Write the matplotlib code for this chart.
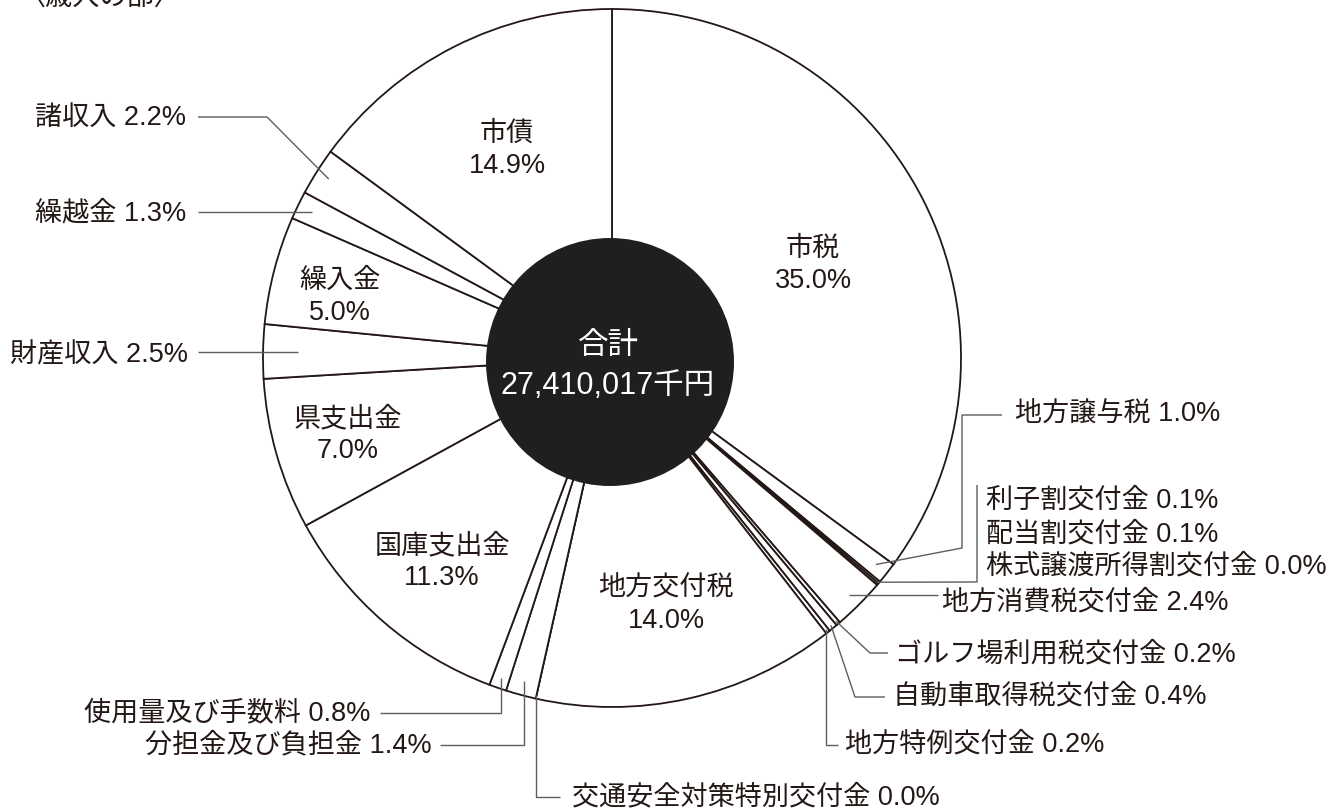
import numpy as np
import matplotlib.pyplot as plt
from matplotlib.patches import Circle

# Latin digits in a Helvetica-like face, kanji/kana from Noto CJK
plt.rcParams['font.family'] = ['Liberation Sans', 'Noto Sans CJK JP', 'DejaVu Sans']

# Revenue breakdown (percent of total), clockwise from 12 o'clock
categories = ['市税', '地方譲与税', '利子割交付金', '配当割交付金', '株式譲渡所得割交付金',
              '地方消費税交付金', 'ゴルフ場利用税交付金', '自動車取得税交付金', '地方特例交付金',
              '地方交付税', '交通安全対策特別交付金', '分担金及び負担金', '使用量及び手数料',
              '国庫支出金', '県支出金', '財産収入', '繰入金', '繰越金', '諸収入', '市債']
shares = [35.0, 1.0, 0.1, 0.1, 0.0, 2.4, 0.2, 0.4, 0.2, 14.0,
          0.0, 1.4, 0.8, 11.3, 7.0, 2.5, 5.0, 1.3, 2.2, 14.9]
total_title = '合計'
total_value = '27,410,017千円'
page_title = '〈歳入の部〉'

W, H = 1329, 810
TXT = '#231815'
LEAD = '#5e5e5e'
FS = 19.5


def Y(py):
    # pixel row (from top) -> data y
    return H - py


fig = plt.figure(figsize=(W / 100, H / 100), dpi=100)
ax = fig.add_axes([0, 0, 1, 1])

cx, cy, R = 612, Y(358), 349
wedges, _ = ax.pie(shares, startangle=90, counterclock=False, center=(cx, cy), radius=R,
                   wedgeprops=dict(facecolor='white', edgecolor=TXT, linewidth=1.3))
ax.set_xlim(0, W)
ax.set_ylim(0, H)
ax.set_aspect('equal')
ax.axis('off')

# black disc in the middle
ax.add_patch(Circle((610, Y(362)), 124, facecolor='#1f1f1f', edgecolor='none', zorder=3))
ax.text(608, Y(346), total_title, color='white', fontsize=22, ha='center', va='center', zorder=4)
ax.text(608, Y(386), total_value, color='white', fontsize=22, ha='center', va='center', zorder=4)

ax.text(18, Y(-1), page_title, color=TXT, fontsize=FS, ha='left', va='center')


def pct(v):
    return f'{v:.1f}%'


# labels inside the big slices
inner = {0: (813, 265), 19: (507, 150), 16: (340, 297), 14: (348, 435),
         13: (442, 562), 9: (666, 605)}
for i, (px, py) in inner.items():
    ax.text(px, Y(py), categories[i] + '\n' + pct(shares[i]), color=TXT, fontsize=FS,
            ha='center', va='center', linespacing=1.3)


def anchor(idx, rf):
    t1 = min(wedges[i].theta1 for i in idx)
    t2 = max(wedges[i].theta2 for i in idx)
    a = np.deg2rad((t1 + t2) / 2)
    return cx + rf * R * np.cos(a), cy + rf * R * np.sin(a)


# leader lines: slices, radius fraction, path steps, text position, alignment
leaders = [
    ([1], 0.96, [('p', 962, 548), ('v', 415), ('h', 1002)], (1015, 415), 'left'),
    ([2, 3, 4], 0.995, [('p', 977, 582), ('v', 485)], None, None),
    ([5], 0.96, [('h', 938)], (942, 603), 'left'),
    ([6], 0.99, [('p', 870, 653), ('h', 888)], (895, 655), 'left'),
    ([7], 0.99, [('p', 855, 697), ('h', 885)], (893, 697), 'left'),
    ([8], 0.99, [('v', 745), ('h', 838)], (845, 745), 'left'),
    ([10], 0.99, [('v', 797), ('h', 560)], (572, 797), 'left'),
    ([11], 0.96, [('v', 745), ('h', 440)], (432, 745), 'right'),
    ([12], 0.97, [('v', 713), ('h', 380)], (370, 713), 'right'),
    ([15], 0.90, [('h', 198)], (188, 355), 'right'),
    ([17], 0.955, [('h', 198)], (186, 213), 'right'),
    ([18], 0.96, [('p', 267, 117), ('h', 198)], (186, 118), 'right'),
]
for idx, rf, steps, tpos, ha in leaders:
    x, y = anchor(idx, rf)
    xs, ys = [x], [y]
    for s in steps:
        if s[0] == 'p':
            x, y = s[1], Y(s[2])
        elif s[0] == 'v':
            y = Y(s[1])
        else:
            x = s[1]
        xs.append(x)
        ys.append(y)
    ax.plot(xs, ys, color=LEAD, lw=1.0, solid_capstyle='butt')
    if tpos is not None:
        i = idx[0]
        ax.text(tpos[0], Y(tpos[1]), f'{categories[i]} {pct(shares[i])}', color=TXT,
                fontsize=FS, ha=ha, va='center')

# stacked labels for the three tiny slices
for i, py in zip([2, 3, 4], [500, 534, 566]):
    ax.text(986, Y(py), f'{categories[i]} {pct(shares[i])}', color=TXT, fontsize=FS,
            ha='left', va='center')

fig.savefig('out.png', dpi=100)
